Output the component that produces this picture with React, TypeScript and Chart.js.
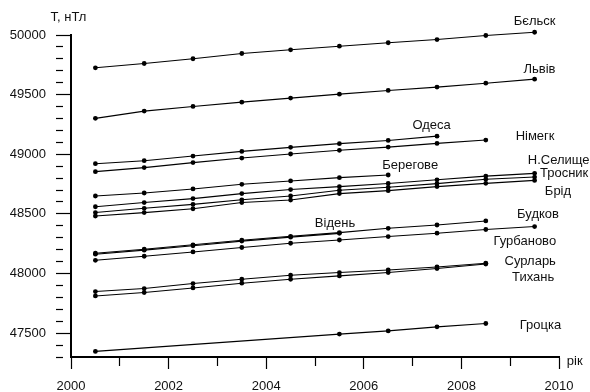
import React, { useEffect, useRef } from "react";
import { Chart, registerables } from "chart.js";

Chart.register(...registerables);

// Observation years (mid-year)
const YEARS = [2000.5, 2001.5, 2002.5, 2003.5, 2004.5, 2005.5, 2006.5, 2007.5, 2008.5, 2009.5];

// Series values, nT (null = no observation)
const belsk = [49725, 49761, 49801, 49845, 49876, 49906, 49935, 49962, 49996, 50023];
const lviv = [49301, 49362, 49401, 49437, 49471, 49504, 49535, 49563, 49596, 49630];
const odesa = [48921, 48946, 48985, 49024, 49058, 49089, 49116, 49152];
const nimegk = [48854, 48888, 48930, 48968, 49002, 49033, 49060, 49091, 49119];
const berehove = [48650, 48675, 48709, 48748, 48776, 48804, 48826];
const nSelyshche = [48560, 48595, 48628, 48670, 48704, 48729, 48755, 48786, 48817, 48840];
const trosnyk = [48511, 48547, 48580, 48618, 48650, 48698, 48723, 48754, 48790, 48809];
const brid = [48482, 48511, 48543, 48595, 48616, 48670, 48695, 48729, 48756, 48781];
const budkov = [48170, 48204, 48241, 48279, 48312, 48343, 48379, 48407, 48441];
const viden = [48162, 48196, 48233, 48272, 48305, 48337];
const hurbanovo = [48111, 48145, 48181, 48218, 48254, 48281, 48310, 48338, 48369, 48394];
const surlar = [47849, 47874, 47916, 47952, 47986, 48008, 48030, 48055, 48086];
const tykhan = [47812, 47841, 47879, 47919, 47952, 47980, 48008, 48042, 48080];
const grotska = [47347, null, null, null, null, 47492, 47519, 47553, 47581];

const SERIES: [string, (number | null)[]][] = [
  ["Бєльск", belsk],
  ["Львів", lviv],
  ["Одеса", odesa],
  ["Німегк", nimegk],
  ["Берегове", berehove],
  ["Н.Селище", nSelyshche],
  ["Тросник", trosnyk],
  ["Брід", brid],
  ["Будков", budkov],
  ["Відень", viden],
  ["Гурбаново", hurbanovo],
  ["Сурларь", surlar],
  ["Тихань", tykhan],
  ["Гроцка", grotska],
];

// Axis ranges / ticks
const X_MIN = 2000;
const X_MAX = 2010;
const Y_MIN = 47300;
const Y_MAX = 50000;
const Y_LABEL_STEP = 500;
const X_LABEL_STEP = 2;

// Station labels anchored in data coordinates [text, year, value, align]
const LABELS: [string, number, number, CanvasTextAlign][] = [
  ["Бєльск", 2009.5, 50110, "center"],
  ["Львів", 2009.6, 49711, "center"],
  ["Одеса", 2007.39, 49245, "center"],
  ["Німегк", 2009.51, 49152, "center"],
  ["Берегове", 2006.95, 48910, "center"],
  ["Н.Селище", 2009.36, 48949, "left"],
  ["Тросник", 2009.61, 48838, "left"],
  ["Брід", 2009.71, 48692, "left"],
  ["Будков", 2009.57, 48497, "center"],
  ["Відень", 2005.41, 48421, "center"],
  ["Гурбаново", 2009.3, 48268, "center"],
  ["Сурларь", 2009.41, 48101, "center"],
  ["Тихань", 2009.47, 47967, "center"],
  ["Гроцка", 2009.62, 47567, "center"],
  ["рік", 2010.16, 47265, "left"],
  ["T, нТл", 1999.58, 50144, "left"],
];

const FONT = "Liberation Sans, Arial, sans-serif";

const labelsPlugin = {
  id: "stationLabels",
  afterDraw(chart: any) {
    const { ctx, scales } = chart;
    ctx.save();
    ctx.font = `13px ${FONT}`;
    ctx.fillStyle = "#111";
    ctx.textBaseline = "middle";
    for (const [text, x, y, align] of LABELS) {
      ctx.textAlign = align;
      ctx.fillText(text, scales.x.getPixelForValue(x), scales.y.getPixelForValue(y));
    }
    ctx.restore();
  },
};

export default function App() {
  const ref = useRef<HTMLCanvasElement | null>(null);

  useEffect(() => {
    if (!ref.current) return;
    const datasets = SERIES.map(([name, vals]) => ({
      label: name,
      data: vals.map((v, i) => ({ x: YEARS[i], y: v })),
      borderColor: "#000",
      backgroundColor: "#000",
      borderWidth: 1.1,
      pointRadius: 2.4,
      pointBorderWidth: 0,
      pointBackgroundColor: "#000",
      tension: 0,
      spanGaps: true,
      clip: false as any,
    }));

    const chart = new Chart(ref.current, {
      type: "line",
      data: { datasets },
      plugins: [labelsPlugin],
      options: {
        animation: false,
        responsive: false,
        layout: { padding: { left: 0, right: 31, top: 35, bottom: 0 } },
        plugins: { legend: { display: false }, tooltip: { enabled: false } },
        scales: {
          x: {
            type: "linear",
            min: X_MIN,
            max: X_MAX,
            border: { display: true, width: 2, color: "#000" },
            grid: {
              drawOnChartArea: false,
              drawTicks: true,
              tickLength: 12,
              tickWidth: 1.2,
              tickColor: "#000",
              tickBorderDash: (ctx: any) =>
                ctx.tick && Math.round(ctx.tick.value) % X_LABEL_STEP === 0 ? [] : [8, 100],
            },
            ticks: {
              stepSize: 1,
              autoSkip: false,
              maxRotation: 0,
              padding: 10,
              color: "#111",
              font: { family: FONT, size: 13 },
              callback: (v: any) => (Math.round(v) % X_LABEL_STEP === 0 ? String(v) : ""),
            },
            afterFit: (s: any) => {
              s.height = 35;
            },
          },
          y: {
            type: "linear",
            min: Y_MIN,
            max: Y_MAX,
            border: { display: true, width: 2, color: "#000" },
            grid: {
              drawOnChartArea: false,
              drawTicks: true,
              tickLength: 15,
              tickWidth: 1.2,
              tickColor: "#000",
              tickBorderDash: (ctx: any) =>
                ctx.tick && Math.round(ctx.tick.value) % Y_LABEL_STEP === 0 ? [] : [7, 100],
            },
            ticks: {
              stepSize: 100,
              autoSkip: false,
              padding: 10,
              color: "#111",
              font: { family: FONT, size: 13 },
              callback: (v: any) => (Math.round(v) % Y_LABEL_STEP === 0 ? String(v) : ""),
            },
            afterFit: (s: any) => {
              s.width = 71;
            },
          },
        },
      },
    });
    return () => chart.destroy();
  }, []);

  return (
    <div style={{ position: "fixed", left: 0, top: 0, width: 590, height: 392, background: "#fff" }}>
      <canvas ref={ref} width={590} height={392} style={{ width: 590, height: 392 }} />
    </div>
  );
}
